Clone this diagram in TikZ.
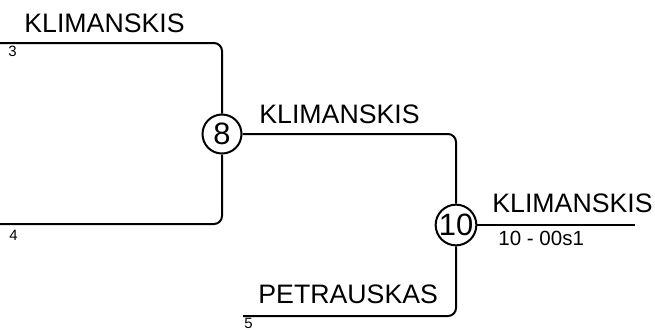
\documentclass[tikz,border=0pt]{standalone}
\usepackage{fontspec}
\setmainfont{Liberation Sans}
\begin{document}
\begin{tikzpicture}[x=0.5bp,y=-0.5bp,
    match/.style={draw,circle,line width=1bp,minimum size=19.5bp,inner sep=0pt,
      font=\fontsize{15.5}{18}\selectfont},
    wire/.style={line width=1bp,rounded corners=4bp},
    player/.style={anchor=base west,inner sep=0pt,font=\fontsize{13.4}{16}\selectfont},
    seed/.style={anchor=base west,inner sep=0pt,font=\fontsize{7.5}{9}\selectfont}]
    \useasboundingbox (0,0) rectangle (655,329);
    %% matches
    \node[match] (m8) at (222,134) {8};
    \node[match] (m10) at (456,225) {10};
    %% free ends
    \coordinate (s3) at (0,43);
    \coordinate (s4) at (0,224);
    \coordinate (s5) at (243,316);
    \coordinate (w10) at (635,225);
    %% bracket lines
    \draw[wire] (s3) -| (m8);
    \draw[wire] (s4) -| (m8);
    \draw[wire] (m8) -| (m10);
    \draw[wire] (s5) -| (m10);
    \draw[wire] (m10) -- (w10);
    %% names and seeds
    \node[player] (p3) at (24,32) {KLIMANSKIS};
    \node[seed] (n3) at (8,56) {3};
    \node[seed] (n4) at (9,240) {4};
    \node[player] (p8) at (259,123) {KLIMANSKIS};
    \node[player] (p10) at (492,212) {KLIMANSKIS};
    \node[anchor=base west,inner sep=0pt,font=\fontsize{10.3}{12}\selectfont] (r10) at (498,245) {10 - 00s1};
    \node[player] (p5) at (258,303) {PETRAUSKAS};
    \node[seed] (n5) at (244,328.5) {5};
\end{tikzpicture}
\end{document}
